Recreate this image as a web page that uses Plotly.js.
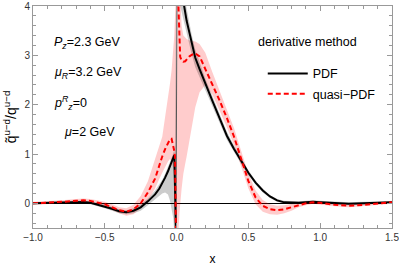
<!DOCTYPE html>
<html>
<head>
<meta charset="utf-8">
<script src="https://cdn.plot.ly/plotly-3.0.1.min.js"></script>
<style>html,body{margin:0;padding:0;background:#fff;}#chart{width:399px;height:268px;}</style>
</head>
<body>
<div id="chart"></div>
<script>
// ---- data, x < 0 branch ----
const xLeft = [-1.0,-0.9,-0.8,-0.7,-0.65,-0.6,-0.5,-0.45,-0.4,-0.35,-0.3,-0.25,-0.2,-0.15,-0.12,-0.1,-0.08,-0.06,-0.046,-0.035,-0.023,-0.016,-0.011,-0.004];
const pdfLeft = [0.0,0.01,0.02,0.03,0.025,0.01,-0.06,-0.11,-0.16,-0.18,-0.15,-0.08,0.04,0.18,0.3,0.4,0.52,0.65,0.75,0.84,0.94,0.98,0.3,-0.7];
const quasiLeft = [0.0,0.01,0.03,0.05,0.06,0.05,-0.02,-0.08,-0.14,-0.17,-0.12,0.0,0.22,0.5,0.78,0.95,1.1,1.22,1.3,1.31,1.18,1.06,0.94,-0.7];
const pdfUpLeft = [0.02,0.03,0.05,0.06,0.055,0.04,-0.02,-0.07,-0.12,-0.14,-0.1,-0.02,0.1,0.26,0.38,0.48,0.6,0.73,0.83,0.92,1.02,1.08,1.0,4.2];
const pdfLoLeft = [-0.02,-0.01,-0.01,0.0,-0.005,-0.02,-0.1,-0.15,-0.2,-0.22,-0.2,-0.15,-0.04,0.08,0.15,0.2,0.22,0.18,0.05,-0.1,-0.3,-0.6,-0.6,-0.6];
const quasiUpLeft = [0.03,0.04,0.06,0.09,0.1,0.09,0.03,-0.02,-0.08,-0.1,-0.03,0.15,0.45,0.9,1.15,1.35,1.75,2.1,2.43,2.7,3.1,3.4,3.8,4.3];
const quasiLoLeft = [-0.03,-0.02,0.0,0.01,0.02,0.01,-0.07,-0.14,-0.2,-0.25,-0.22,-0.1,0.05,0.3,0.5,0.62,0.75,0.85,0.9,0.85,0.7,0.5,-0.6,-0.6];
// ---- data, x > 0 branch ----
const xRight = [0.003,0.012,0.02,0.025,0.035,0.047,0.06,0.07,0.09,0.105,0.13,0.16,0.2,0.25,0.3,0.35,0.4,0.45,0.5,0.55,0.6,0.65,0.7,0.75,0.8,0.85,0.9,0.95,1.0,1.1,1.2,1.3,1.4,1.5];
const pdfRight = [4.8,4.7,4.6,4.5,4.3,4.08,3.85,3.7,3.45,3.24,2.95,2.72,2.42,2.07,1.72,1.37,1.1,0.85,0.62,0.42,0.26,0.14,0.06,0.02,0.01,0.01,0.02,0.03,0.02,0.0,-0.01,0.0,0.01,0.02];
const quasiRight = [4.8,4.1,3.3,2.97,2.9,2.87,2.88,2.92,2.98,3.01,3.04,2.98,2.72,2.42,2.08,1.73,1.35,0.9,0.45,0.12,-0.05,-0.12,-0.14,-0.12,-0.08,-0.03,0.0,0.02,0.01,-0.03,-0.05,-0.03,0.0,0.02];
const pdfUpRight = [4.9,4.9,4.9,4.8,4.6,4.35,4.1,3.95,3.65,3.42,3.12,2.87,2.53,2.17,1.81,1.45,1.17,0.91,0.67,0.46,0.3,0.17,0.09,0.05,0.04,0.04,0.05,0.06,0.05,0.03,0.02,0.03,0.03,0.04];
const pdfLoRight = [4.2,4.2,4.1,4.0,3.9,3.75,3.55,3.42,3.2,3.02,2.76,2.56,2.31,1.97,1.63,1.29,1.03,0.79,0.57,0.38,0.22,0.11,0.03,-0.01,-0.02,-0.02,-0.01,0.0,-0.01,-0.03,-0.04,-0.03,-0.01,0.0];
const quasiUpRight = [4.9,4.9,4.6,4.2,3.6,3.4,3.35,3.33,3.3,3.29,3.28,3.23,3.05,2.65,2.28,1.92,1.52,1.06,0.6,0.26,0.07,-0.02,-0.05,-0.04,-0.01,0.02,0.04,0.05,0.04,0.0,-0.02,0.0,0.03,0.05];
const quasiLoRight = [-0.6,-0.6,-0.2,0.0,0.3,0.6,0.8,0.95,1.25,1.5,1.95,2.25,2.4,2.2,1.88,1.54,1.18,0.74,0.3,-0.02,-0.17,-0.22,-0.23,-0.2,-0.15,-0.08,-0.04,-0.01,-0.02,-0.06,-0.08,-0.06,-0.03,-0.01];
// ---- labels ----
const legendTitle = "derivative method";
const seriesNames = ["PDF", "quasi\u2212PDF"];
const xTicks = [-1.0,-0.5,0.0,0.5,1.0,1.5];
const yTicks = [0,1,2,3,4];
const infoLines = ["<i>P</i><sub><i>z</i></sub>=2.3 GeV","<i>\u03bc</i><sub><i>R</i></sub>=3.2 GeV","<i>p</i><sup><i>R</i></sup><sub><i>z</i></sub>=0","<i>\u03bc</i>=2 GeV"];

const PINK = 'rgba(255,0,0,0.2)';
const GRAY = 'rgba(0,0,0,0.2)';

function band(x, up, lo, color) {
  return {x: x.concat(x.slice().reverse()), y: up.concat(lo.slice().reverse()),
    type:'scatter', mode:'lines', fill:'toself', fillcolor: color,
    line:{width:0,color:'rgba(0,0,0,0)'}, hoverinfo:'skip', showlegend:false};
}

const traces = [
  band(xLeft, quasiUpLeft, quasiLoLeft, PINK),
  band(xRight, quasiUpRight, quasiLoRight, PINK),
  band(xLeft, pdfUpLeft, pdfLoLeft, GRAY),
  band(xRight, pdfUpRight, pdfLoRight, GRAY),
  // thin pole of the PDF curve at x = 0 (joins the two branches)
  {x: [xLeft[xLeft.length-1], xRight[0]], y: [pdfLeft[pdfLeft.length-1], pdfRight[0]], type:'scatter', mode:'lines',
   showlegend:false, hoverinfo:'skip', line:{color:'#555', width:1}},
  {x: xLeft.concat([null], xRight), y: pdfLeft.concat([null], pdfRight), type:'scatter', mode:'lines', name: seriesNames[0],
   legendgroup:'a', connectgaps:false, line:{color:'#000', width:2}},
  {x: xLeft.concat([null], xRight), y: quasiLeft.concat([null], quasiRight), type:'scatter', mode:'lines', name: seriesNames[1],
   legendgroup:'b', connectgaps:false, line:{color:'#f00', width:2, dash:'5px,3px'}}
];

const fontFam = 'Liberation Sans, Arial, sans-serif';
const annotations = infoLines.map((t,i) => ({
  text: t, xref:'paper', yref:'paper', x: i===3 ? 0.08 : 0.053, y: [0.835,0.700,0.565,0.432][i],
  xanchor:'left', yanchor:'middle', showarrow:false, font:{family:fontFam, size:12.5, color:'#000'}
}));
annotations.push({text: legendTitle, xref:'paper', yref:'paper', x:0.62, y:0.84, xanchor:'left', yanchor:'middle',
  showarrow:false, font:{family:fontFam, size:12.5, color:'#000'}});

const layout = {
  width:399, height:268,
  margin:{l:33, r:7, t:6, b:40},
  paper_bgcolor:'#fff', plot_bgcolor:'#fff',
  font:{family:fontFam, size:10, color:'#333'},
  showlegend:true,
  legend:{x:0.64, y:0.762, xanchor:'left', yanchor:'top', bgcolor:'rgba(0,0,0,0)',
    font:{family:fontFam, size:12.5, color:'#000'}, tracegroupgap:1, itemwidth:40},
  xaxis:{range:[-1.0,1.5], tickvals:xTicks, ticktext:xTicks.map(v=>v.toFixed(1).replace('-','\u2212')),
    ticks:'inside', ticklen:5, tickcolor:'#999', showline:true, linecolor:'#999', linewidth:1, mirror:'ticks',
    showgrid:false, zeroline:false, ticklabeloverflow:'allow',
    minor:{dtick:0.1, tick0:0, ticks:'inside', ticklen:3, tickcolor:'#999', showgrid:false},
    title:{text:'x', font:{family:fontFam, size:12, color:'#000'}, standoff:12},
    tickfont:{family:fontFam, size:10, color:'#333'}},
  yaxis:{range:[-0.5,4], tickvals:yTicks, ticks:'inside', ticklen:5, tickcolor:'#999', showline:true, linecolor:'#999',
    linewidth:1, mirror:'ticks', showgrid:false, zeroline:true, zerolinecolor:'#000', zerolinewidth:1,
    minor:{dtick:0.2, tick0:0, ticks:'inside', ticklen:3, tickcolor:'#999', showgrid:false},
    title:{text:'q\u0303<sup>u\u2212d</sup>/q<sup>u\u2212d</sup>', font:{family:fontFam, size:14, color:'#000'}, standoff:4},
    tickfont:{family:fontFam, size:10, color:'#333'}},
  annotations: annotations
};
Plotly.newPlot('chart', traces, layout, {staticPlot:true, displayModeBar:false});
</script>
</body>
</html>
